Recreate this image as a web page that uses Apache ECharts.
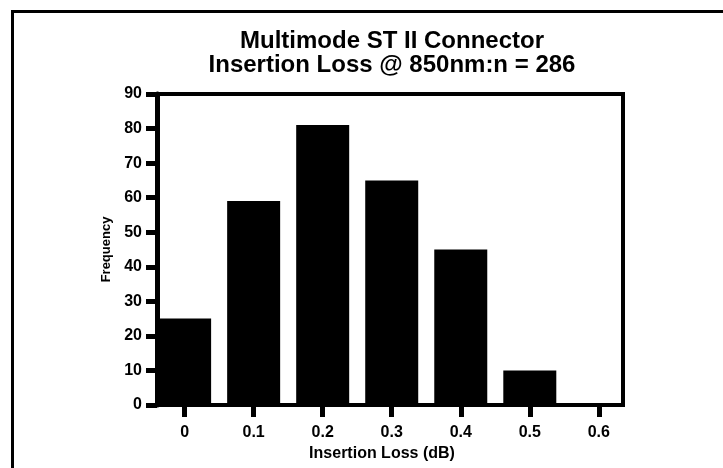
<!DOCTYPE html>
<html>
<head>
<meta charset="utf-8">
<script src="https://cdn.jsdelivr.net/npm/echarts@6/dist/echarts.min.js"></script>
<style>
  html, body { margin: 0; padding: 0; background: #ffffff; }
  #chart { width: 723px; height: 468px; }
</style>
</head>
<body>
<div id="chart"></div>
<script>
// Data
var lossValues = [0, 0.1, 0.2, 0.3, 0.4, 0.5, 0.6];
var xTickLabels = ['0', '0.1', '0.2', '0.3', '0.4', '0.5', '0.6'];
var frequencies = [25, 59, 81, 65, 45, 10, 0];
var titleLines = ['Multimode ST II Connector', 'Insertion Loss @ 850nm:n = 286'];
var xAxisTitle = 'Insertion Loss (dB)';
var yAxisTitle = 'Frequency';

var FONT = '"Liberation Sans", Arial, Helvetica, sans-serif';

var barData = lossValues.map(function (v, i) { return [v, frequencies[i]]; });

var chart = echarts.init(document.getElementById('chart'), null, { renderer: 'canvas' });
chart.setOption({
  backgroundColor: '#ffffff',
  animation: false,
  title: {
    text: titleLines.join('\n'),
    left: 392,
    top: 29,
    padding: 0,
    textAlign: 'center',
    textStyle: {
      fontFamily: FONT,
      fontWeight: 'bold',
      fontSize: 24,
      lineHeight: 24,
      color: '#000000'
    }
  },
  graphic: [{
    type: 'rect',
    shape: { x: 12.5, y: 11.5, width: 800, height: 600 },
    style: { fill: 'none', stroke: '#000000', lineWidth: 3 },
    silent: true
  }],
  grid: {
    left: 157,
    right: 100,
    top: 94,
    bottom: 63,
    containLabel: false,
    outerBoundsMode: 'none',
    show: true,
    borderColor: '#000000',
    borderWidth: 4,
    backgroundColor: 'transparent'
  },
  xAxis: {
    type: 'value',
    min: -0.04,
    max: 0.635,
    name: xAxisTitle,
    nameLocation: 'middle',
    nameGap: 40,
    nameTextStyle: {
      fontFamily: FONT, fontWeight: 'bold', fontSize: 16, color: '#000000',
      padding: [0, 16, 0, 0]
    },
    splitLine: { show: false },
    axisLine: { show: true, onZero: false, lineStyle: { color: '#000000', width: 4 } },
    axisTick: {
      show: true, length: 12, inside: false,
      customValues: lossValues,
      lineStyle: { color: '#000000', width: 5 }
    },
    axisLabel: {
      show: true,
      customValues: lossValues,
      margin: 20,
      fontFamily: FONT, fontWeight: 'bold', fontSize: 16, color: '#000000',
      formatter: function (v) {
        var idx = lossValues.findIndex(function (x) { return Math.abs(x - v) < 1e-9; });
        return idx >= 0 ? xTickLabels[idx] : '';
      }
    }
  },
  yAxis: {
    type: 'value',
    min: 0,
    max: 90,
    interval: 10,
    name: yAxisTitle,
    nameLocation: 'middle',
    nameGap: 44,
    nameTextStyle: { fontFamily: FONT, fontWeight: 'bold', fontSize: 13, color: '#000000' },
    splitLine: { show: false },
    axisLine: { show: true, onZero: false, lineStyle: { color: '#000000', width: 5 } },
    axisTick: { show: true, length: 11, inside: false, lineStyle: { color: '#000000', width: 5 } },
    axisLabel: {
      margin: 15,
      fontFamily: FONT, fontWeight: 'bold', fontSize: 16, color: '#000000'
    }
  },
  series: [{
    type: 'bar',
    data: barData,
    barWidth: 53,
    itemStyle: { color: '#000000' },
    silent: true
  }]
});
</script>
</body>
</html>
